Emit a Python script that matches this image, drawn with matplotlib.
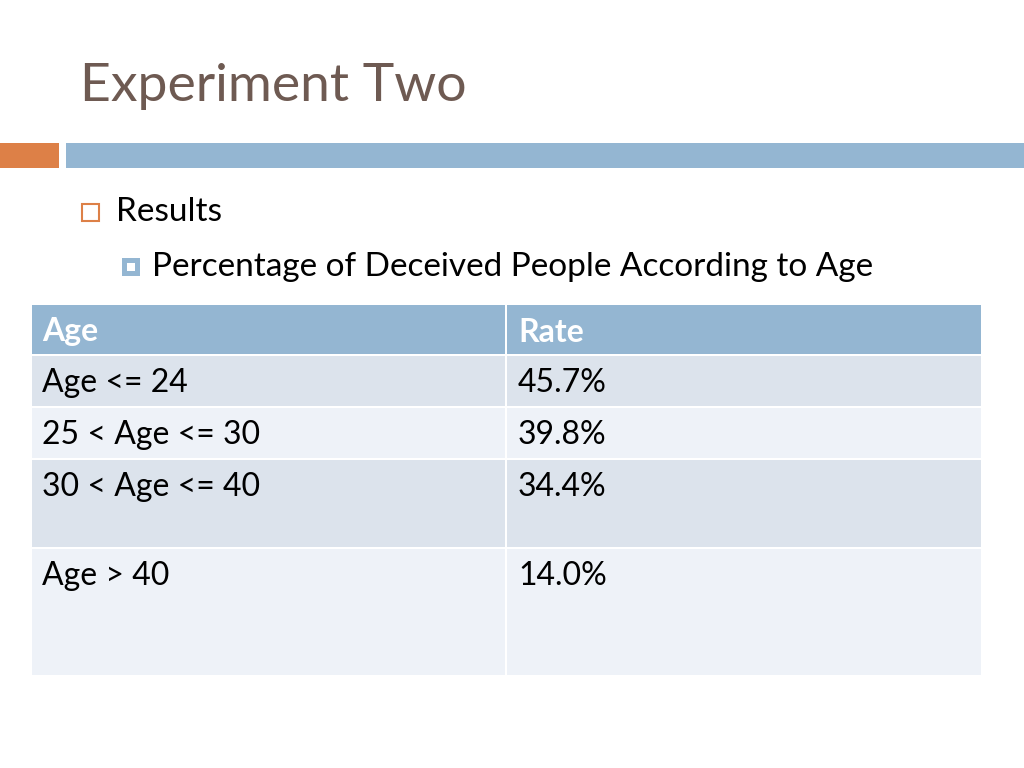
import matplotlib.pyplot as plt
from matplotlib.patches import Rectangle

title = "Experiment Two"
bullet = "Results"
sub_bullet = "Percentage of Deceived People According to Age"
headers = ["Age", "Rate"]
ages = ["Age <= 24", "25 < Age <= 30", "30 < Age <= 40", "Age > 40"]
rates = ["45.7%", "39.8%", "34.4%", "14.0%"]

W, H = 1024, 768
fig = plt.figure(figsize=(10.24, 7.68), dpi=100)
ax = fig.add_axes([0, 0, 1, 1])
ax.set_xlim(0, W)
ax.set_ylim(H, 0)
ax.axis("off")

FONT = "Lato"
blue = "#94b6d2"
orange = "#dd8047"

# title and header band
ax.text(80, 86, title, fontsize=38.5, color="#6e5a52", family=FONT, va="center")
ax.add_patch(Rectangle((0, 143), 59, 25, color=orange, lw=0))
ax.add_patch(Rectangle((66, 143), W - 66, 25, color=blue, lw=0))

# bullets
ax.add_patch(Rectangle((82, 204), 17, 17, fill=False, ec=orange, lw=1.5))
ax.text(116, 212, bullet, fontsize=24, color="black", family=FONT, va="center")
ax.add_patch(Rectangle((122, 258), 18, 18, color=blue, lw=0))
ax.add_patch(Rectangle((127, 263), 8, 8, color="white", lw=0))
ax.text(152, 267, sub_bullet, fontsize=24, color="black", family=FONT, va="center")

# table
x0, xm, x1 = 32, 506, 981
row_tops = [305, 356, 408, 460, 549]
row_bots = [354, 406, 458, 547, 675]
fills = [blue, "#dce3ec", "#eef2f8", "#dce3ec", "#eef2f8"]
cells = [headers] + [[a, r] for a, r in zip(ages, rates)]
for i, (top, bot, fc, row) in enumerate(zip(row_tops, row_bots, fills, cells)):
    ax.add_patch(Rectangle((x0, top), xm - x0 - 1, bot - top, color=fc, lw=0))
    ax.add_patch(Rectangle((xm + 1, top), x1 - xm - 1, bot - top, color=fc, lw=0))
    hdr = i == 0
    for x, label in zip([42, 518], row):
        ax.text(x, top + 27, label, fontsize=23, family=FONT, va="center",
                color="white" if hdr else "black",
                fontweight="bold" if hdr else "normal")

fig.savefig("out.png", dpi=100)
